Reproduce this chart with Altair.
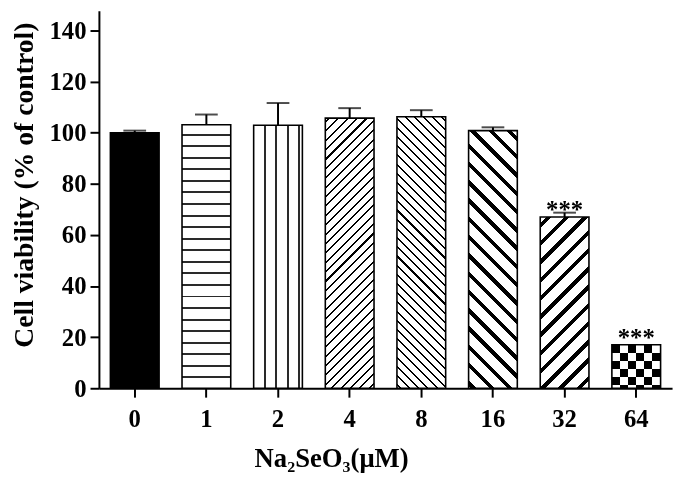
import altair as alt
import pandas as pd

doses = ["0", "1", "2", "4", "8", "16", "32", "64"]
viability = [100.0, 103.1, 102.9, 105.7, 106.2, 100.8, 67.0, 17.0]
sem = [0.8, 4.0, 8.7, 3.9, 2.6, 1.3, 1.7, 0.0]
stars = ["", "", "", "", "", "", "***", "***"]
y_ticks = [0, 20, 40, 60, 80, 100, 120, 140]

W, H, YMAX = 580, 382, 147.7
PAD_IN, PAD_OUT = 0.32, 0.16
step = W / (len(doses) - PAD_IN + 2 * PAD_OUT)
bw = step * (1 - PAD_IN)
ppu = H / YMAX

FONT = "Liberation Serif"
BLACK, WHITE, LINE = "#000000", "#ffffff", "#2a2a2a"

df = pd.DataFrame({"dose": doses, "viability": viability, "sem": sem, "stars": stars})
df["top"] = df["viability"] + df["sem"]


def stripe_stops(L, period, black, phase, ink=BLACK):
    stops = [{"offset": 0, "color": WHITE}]
    s = phase
    while s < L:
        a = max(s, 0.0)
        e = min(s + black, L)
        if e > a:
            stops += [
                {"offset": a / L, "color": WHITE},
                {"offset": a / L, "color": ink},
                {"offset": e / L, "color": ink},
                {"offset": e / L, "color": WHITE},
            ]
        s += period
    stops.append({"offset": 1, "color": WHITE})
    return stops


def grad_h(h, period, black, phase, ink=BLACK):
    return {"gradient": "linear", "x1": 0, "y1": 0, "x2": 0, "y2": 1,
            "stops": stripe_stops(h, period, black, phase, ink)}


def grad_v(w, period, black, phase, ink=BLACK):
    return {"gradient": "linear", "x1": 0, "y1": 0, "x2": 1, "y2": 0,
            "stops": stripe_stops(w, period, black, phase, ink)}


def grad_diag(w, h, period, black, phase, forward):
    k = (w + h) / (w * w + h * h)
    a, b = w * k, h * k
    st = stripe_stops(w + h, period, black, phase)
    if forward:  # "/"
        return {"gradient": "linear", "x1": 0, "y1": 0, "x2": a, "y2": b, "stops": st}
    return {"gradient": "linear", "x1": 1, "y1": 0, "x2": 1 - a, "y2": b, "stops": st}


heights = {d: v * ppu for d, v in zip(doses, viability)}
fills = {
    "0": BLACK,
    "1": grad_h(heights["1"], 11.7, 2.0, 9.0, LINE),
    "2": grad_v(bw, 11.7, 2.0, 10.0, LINE),
    "4": grad_diag(bw, heights["4"], 9.5, 2.1, 3, True),
    "8": grad_diag(bw, heights["8"], 9.3, 2.1, 3, False),
    "16": grad_diag(bw, heights["16"], 18.5, 5.5, 6, False),
    "32": grad_diag(bw, heights["32"], 18.5, 5.5, 6, True),
}

x_enc = alt.X(
    "dose:N", sort=doses,
    scale=alt.Scale(domain=doses, paddingInner=PAD_IN, paddingOuter=PAD_OUT),
    axis=alt.Axis(title="Na₂SeO₃(μM)", labelAngle=0, labelPadding=10,
                  titleX=235, titleY=79, titleBaseline="alphabetic",
                  titleFontSize=27),
)
y_scale = alt.Scale(domain=[0, YMAX], nice=False)
y_enc = alt.Y(
    "viability:Q", scale=y_scale,
    axis=alt.Axis(title="Cell viability (% of control)", values=y_ticks,
                  labelPadding=4, titleX=-75, titleY=176, titleAngle=-90,
                  titleBaseline="middle", titleAlign="center", titleFontSize=28),
)

base = alt.Chart(df).encode(x=x_enc, y=y_enc)

layers = []
for d in doses:
    sub = base.transform_filter(alt.datum.dose == d)
    if d == "64":
        cw = bw / 6
        layers.append(sub.mark_bar(fill=grad_v(bw, 2 * cw, cw, cw), strokeWidth=0))
        layers.append(sub.mark_bar(fill=grad_h(heights["64"], 2 * cw, cw, cw),
                                   strokeWidth=0, blend="difference"))
        layers.append(sub.mark_bar(fill="transparent", stroke=BLACK, strokeWidth=1.6))
    else:
        layers.append(sub.mark_bar(fill=fills[d], stroke=BLACK, strokeWidth=1.6))

err = base.transform_filter(alt.datum.sem > 0)
layers.append(err.mark_rule(color=BLACK, strokeWidth=2).encode(y2="top:Q"))
layers.append(err.mark_tick(color=BLACK, size=23, thickness=2, orient="horizontal").encode(
    y=alt.Y("top:Q", scale=y_scale)))
layers.append(base.transform_filter(alt.datum.stars != "").mark_text(
    font=FONT, fontWeight="bold", fontSize=25, baseline="alphabetic", color=BLACK, dy=1
).encode(text="stars:N"))

chart = alt.layer(*layers).properties(
    width=W, height=H,
    autosize=alt.AutoSizeParams(type="none"),
    padding={"left": 92, "top": 0, "right": 5, "bottom": 86},
).configure_view(stroke=None).configure_axis(
    grid=False, domainColor=BLACK, domainWidth=2, tickColor=BLACK, tickWidth=2,
    tickSize=9, labelFont=FONT, labelFontWeight="bold", labelFontSize=25,
    labelColor=BLACK, titleFont=FONT, titleFontWeight="bold", titleColor=BLACK,
)

chart.save("out.html", embed_options={"renderer": "svg", "actions": False})
